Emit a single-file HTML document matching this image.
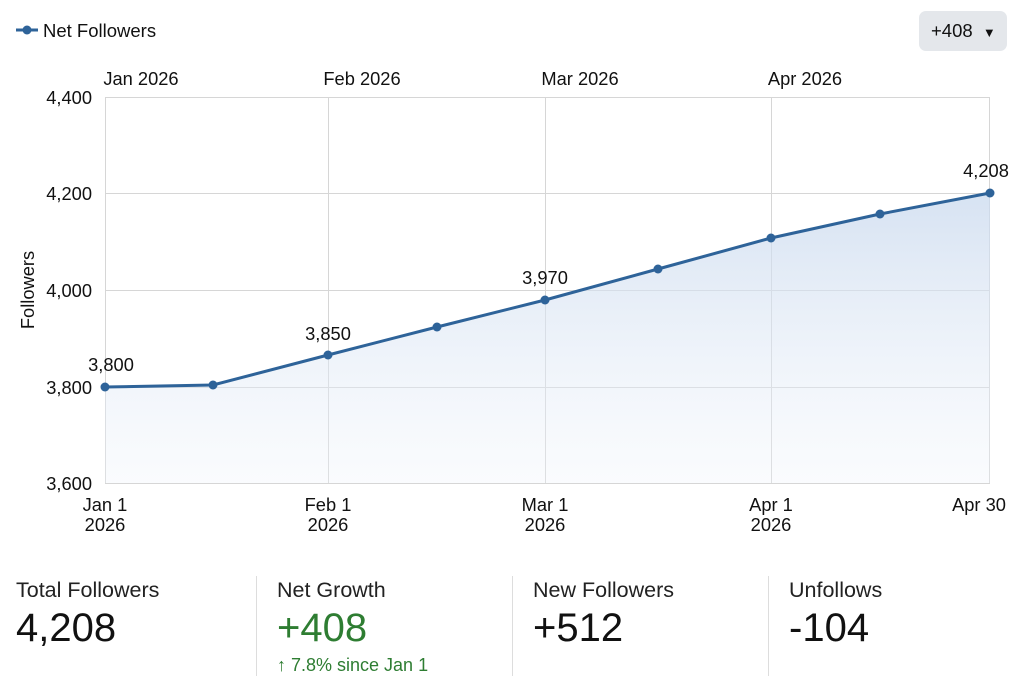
<!DOCTYPE html>
<html><head><style>
body{margin:0;width:1024px;height:687px;background:#fff;font-family:"Liberation Sans",sans-serif;overflow:hidden;position:relative}
.btn{position:absolute;left:919px;top:11px;width:88px;height:40px;background:#e4e7eb;border-radius:7px;font-size:18.5px;color:#111;line-height:40px;text-indent:12px}
.k{position:absolute;top:578px}
.k .l{font-size:21.5px;color:#222}
.k .v{font-size:40px;color:#111;margin-top:3px}
.sep{position:absolute;top:576px;width:1px;height:100px;background:#ddd}
</style></head><body>
<svg width="1024" height="687" style="position:absolute;left:0;top:0" font-family="Liberation Sans, sans-serif">
<defs><linearGradient id="g" x1="0" y1="0" x2="0" y2="1"><stop offset="0" stop-color="#c9d9ee" stop-opacity="0.75"/><stop offset="1" stop-color="#eef3fa" stop-opacity="0.3"/></linearGradient></defs>
<line x1="16" y1="30" x2="38" y2="30" stroke="#2e6399" stroke-width="3"/><circle cx="27" cy="30" r="4.5" fill="#2e6399"/>
<text x="43" y="37" font-size="18.5" fill="#111">Net Followers</text>
<g stroke="#d6d6d6" stroke-width="1" fill="none">
<rect x="105.5" y="97.5" width="884" height="386"/>
<line x1="105" y1="193.5" x2="990" y2="193.5"/><line x1="105" y1="290.5" x2="990" y2="290.5"/><line x1="105" y1="387.5" x2="990" y2="387.5"/>
<line x1="328.5" y1="97" x2="328.5" y2="483"/><line x1="545.5" y1="97" x2="545.5" y2="483"/><line x1="771.5" y1="97" x2="771.5" y2="483"/>
</g>
<path d="M105,387 L213,385 L328,355 L437,327 L545,300 L658,269 L771,238 L880,214 L990,193 L990,483 L105,483Z" fill="url(#g)"/>
<polyline points="105,387 213,385 328,355 437,327 545,300 658,269 771,238 880,214 990,193" fill="none" stroke="#2e6399" stroke-width="3"/>
<g fill="#2e6399"><circle cx="105" cy="387" r="4.5"/><circle cx="213" cy="385" r="4.5"/><circle cx="328" cy="355" r="4.5"/><circle cx="437" cy="327" r="4.5"/><circle cx="545" cy="300" r="4.5"/><circle cx="658" cy="269" r="4.5"/><circle cx="771" cy="238" r="4.5"/><circle cx="880" cy="214" r="4.5"/><circle cx="990" cy="193" r="4.5"/></g>
<g font-size="18.3" fill="#111" text-anchor="middle">
<text x="111" y="371">3,800</text><text x="328" y="340">3,850</text><text x="545" y="284">3,970</text><text x="986" y="177">4,208</text>
<text x="141" y="85">Jan 2026</text><text x="362" y="85">Feb 2026</text><text x="580" y="85">Mar 2026</text><text x="805" y="85">Apr 2026</text>
<text x="105" y="511">Jan 1</text><text x="105" y="531">2026</text>
<text x="328" y="511">Feb 1</text><text x="328" y="531">2026</text>
<text x="545" y="511">Mar 1</text><text x="545" y="531">2026</text>
<text x="771" y="511">Apr 1</text><text x="771" y="531">2026</text>
<text x="979" y="511">Apr 30</text>
</g>
<g font-size="18.3" fill="#111" text-anchor="end">
<text x="92" y="104">4,400</text><text x="92" y="200">4,200</text><text x="92" y="297">4,000</text><text x="92" y="394">3,800</text><text x="92" y="490">3,600</text>
</g>
<text transform="translate(34,290) rotate(-90)" font-size="18.3" fill="#111" text-anchor="middle">Followers</text>
</svg>
<div class="btn">+408 <span style="font-size:13px;margin-left:5px">▼</span></div>
<div class="k" style="left:16px"><div class="l">Total Followers</div><div class="v">4,208</div></div>
<div class="sep" style="left:256px"></div>
<div class="k" style="left:277px"><div class="l">Net Growth</div><div class="v" style="color:#2e7d32">+408</div><div style="color:#2e7d32;font-size:18px;margin-top:4px">↑ 7.8% since Jan 1</div></div>
<div class="sep" style="left:512px"></div>
<div class="k" style="left:533px"><div class="l">New Followers</div><div class="v">+512</div></div>
<div class="sep" style="left:768px"></div>
<div class="k" style="left:789px"><div class="l">Unfollows</div><div class="v">-104</div></div>
</body></html>
